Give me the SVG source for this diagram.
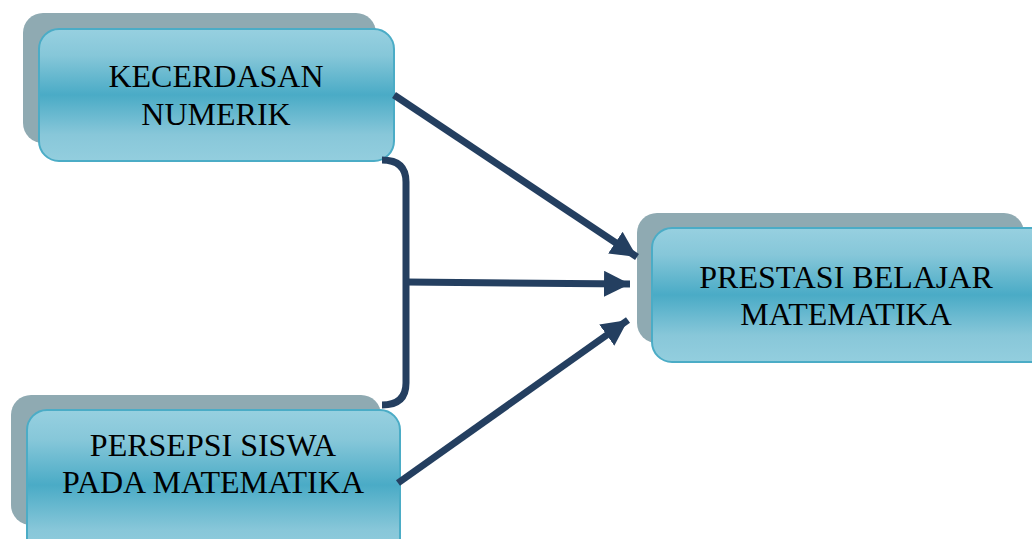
<svg xmlns="http://www.w3.org/2000/svg" width="1032" height="539" viewBox="0 0 1032 539">
<defs>
<linearGradient id="g" x1="0" y1="0" x2="0" y2="1">
<stop offset="0" stop-color="#97D0E0"/>
<stop offset="0.2" stop-color="#86C7D9"/>
<stop offset="0.5" stop-color="#4AABC6"/>
<stop offset="0.8" stop-color="#88C7D9"/>
<stop offset="1" stop-color="#93CEDE"/>
</linearGradient>
<marker id="ah" markerUnits="userSpaceOnUse" markerWidth="30" markerHeight="30" refX="26" refY="13" orient="auto">
<polygon points="0,0 26,13 0,26" fill="#243F60"/>
</marker>
<style>
.sh{fill:#8FAAB2}
.fr{fill:url(#g);stroke:#4BACC6;stroke-width:2}
.t{font-family:"Liberation Serif","Times New Roman",serif;font-size:32px;fill:#000;text-anchor:middle}
.c{fill:none;stroke:#243F60;stroke-width:7}
</style>
</defs>
<rect width="1032" height="539" fill="#fff"/>
<g id="node-kecerdasan">
<rect class="sh" x="23" y="13" width="353" height="130" rx="20"/>
<rect class="fr" x="39" y="29" width="355" height="132" rx="20"/>
<text class="t" x="216" y="87">KECERDASAN</text>
<text class="t" x="216" y="125">NUMERIK</text>
</g>
<g id="node-prestasi">
<rect class="sh" x="637" y="213" width="387" height="130" rx="20"/>
<rect class="fr" x="652" y="228" width="400" height="134" rx="20"/>
<text class="t" x="846" y="288">PRESTASI BELAJAR</text>
<text class="t" x="846" y="325">MATEMATIKA</text>
</g>
<g id="node-persepsi">
<rect class="sh" x="11" y="395" width="370" height="130" rx="20"/>
<rect class="fr" x="27" y="410" width="373" height="150" rx="20"/>
<text class="t" x="213" y="456">PERSEPSI SISWA</text>
<text class="t" x="213" y="493">PADA MATEMATIKA</text>
</g>
<g id="connectors">
<path class="c" d="M394,95 L637,257" marker-end="url(#ah)"/>
<path class="c" d="M382,160 Q406,160 406,182 L406,383 Q406,405 382,405"/>
<path class="c" d="M406,282 L630,284" marker-end="url(#ah)"/>
<path class="c" d="M398,483 L628,320" marker-end="url(#ah)"/>
</g>
</svg>
